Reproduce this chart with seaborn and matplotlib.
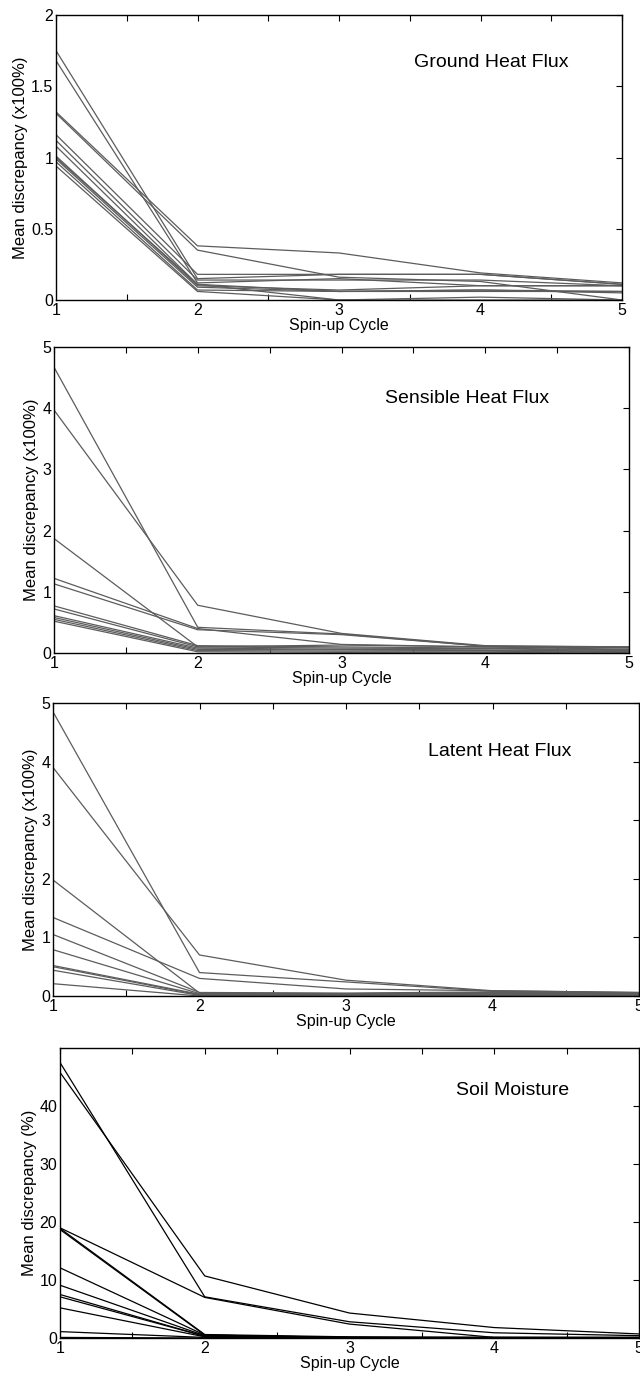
import pandas as pd
import matplotlib
matplotlib.use("Agg")
import matplotlib.pyplot as plt
from matplotlib.ticker import MultipleLocator
import seaborn as sns

sns.set_style("white")
plt.rcParams["font.family"] = ["Liberation Sans", "DejaVu Sans"]
plt.rcParams["text.color"] = "black"
plt.rcParams["axes.labelcolor"] = "black"

## DATA
cycles = [1, 2, 3, 4, 5]

ground_heat = [
    [1.75, 0.15, 0.18, 0.18, 0.11],
    [1.68, 0.12, 0.15, 0.10, 0.10],
    [1.32, 0.38, 0.33, 0.19, 0.12],
    [1.31, 0.35, 0.16, 0.13, 0.00],
    [1.16, 0.18, 0.18, 0.18, 0.11],
    [1.12, 0.14, 0.14, 0.14, 0.10],
    [1.08, 0.11, 0.06, 0.07, 0.06],
    [1.01, 0.10, 0.07, 0.10, 0.10],
    [1.00, 0.11, 0.00, 0.00, 0.00],
    [0.99, 0.09, 0.06, 0.07, 0.05],
    [0.97, 0.07, 0.06, 0.06, 0.06],
    [0.94, 0.06, 0.00, 0.02, 0.00],
]

sensible_heat = [
    [4.67, 0.42, 0.31, 0.11, 0.09],
    [3.97, 0.78, 0.32, 0.12, 0.10],
    [1.87, 0.10, 0.13, 0.10, 0.08],
    [1.22, 0.40, 0.14, 0.10, 0.06],
    [1.13, 0.38, 0.30, 0.11, 0.10],
    [0.77, 0.12, 0.10, 0.08, 0.05],
    [0.72, 0.10, 0.08, 0.07, 0.04],
    [0.61, 0.08, 0.06, 0.05, 0.03],
    [0.58, 0.06, 0.05, 0.04, 0.02],
    [0.55, 0.04, 0.03, 0.03, 0.01],
    [0.52, 0.02, 0.01, 0.01, 0.00],
]

latent_heat = [
    [4.85, 0.40, 0.24, 0.08, 0.05],
    [3.90, 0.70, 0.27, 0.09, 0.06],
    [1.98, 0.05, 0.04, 0.06, 0.04],
    [1.34, 0.30, 0.12, 0.09, 0.06],
    [1.05, 0.06, 0.05, 0.07, 0.05],
    [0.79, 0.04, 0.03, 0.05, 0.03],
    [0.52, 0.03, 0.02, 0.04, 0.02],
    [0.50, 0.02, 0.02, 0.03, 0.02],
    [0.44, 0.01, 0.01, 0.02, 0.01],
    [0.21, 0.00, 0.00, 0.01, 0.00],
]

soil_moisture = [
    [47.5, 7.1, 2.8, 0.9, 0.4],
    [45.8, 10.7, 4.3, 1.8, 0.7],
    [19.0, 7.0, 2.4, 0.1, 0.1],
    [18.9, 0.6, 0.2, 0.1, 0.1],
    [18.7, 0.5, 0.1, 0.1, 0.0],
    [12.1, 0.5, 0.1, 0.1, 0.1],
    [9.1, 0.4, 0.1, 0.0, 0.0],
    [7.5, 0.3, 0.1, 0.0, 0.0],
    [7.1, 0.3, 0.0, 0.0, 0.0],
    [5.2, 0.2, 0.0, 0.0, 0.0],
    [1.1, 0.1, 0.0, 0.0, 0.0],
    [0.1, 0.0, 0.0, 0.0, 0.0],
]

titles = ["Ground Heat Flux", "Sensible Heat Flux", "Latent Heat Flux", "Soil Moisture"]
ylabels = ["Mean discrepancy (x100%)"] * 3 + ["Mean discrepancy (%)"]
ymax = [2, 5, 5, 50]
yticks = [[0, 0.5, 1, 1.5, 2], [0, 1, 2, 3, 4, 5], [0, 1, 2, 3, 4, 5], [0, 10, 20, 30, 40]]
ytick_labels = [["0", "0.5", "1", "1.5", "2"], None, None, None]
panels = [ground_heat, sensible_heat, latent_heat, soil_moisture]


def to_long(runs):
    rows = []
    for i, run in enumerate(runs):
        for c, v in zip(cycles, run):
            rows.append({"run": i, "cycle": c, "value": v})
    return pd.DataFrame(rows)


## LAYOUT (pixel boxes: left, right, top, bottom)
W, H = 640, 1378
boxes = [(56, 622, 15, 300), (54, 629, 347, 653), (53, 639, 703, 996), (60, 639, 1048, 1338)]
text_pos = [(0.633, 0.832), (0.576, 0.833), (0.64, 0.833), (0.684, 0.855)]
line_colors = ["#5c5c5c", "#5c5c5c", "#5c5c5c", "black"]

fig = plt.figure(figsize=(W / 100, H / 100), dpi=100)

for k, runs in enumerate(panels):
    l, r, t, b = boxes[k]
    ax = fig.add_axes([l / W, 1 - b / H, (r - l) / W, (b - t) / H])
    df = to_long(runs)
    sns.lineplot(data=df, x="cycle", y="value", units="run", estimator=None,
                 color=line_colors[k], linewidth=0.9, ax=ax, legend=False)
    ax.set_xlim(1, 5)
    ax.set_ylim(0, ymax[k])
    ax.set_xticks(cycles)
    ax.set_xticklabels([str(c) for c in cycles])
    ax.xaxis.set_minor_locator(MultipleLocator(0.5))
    ax.set_yticks(yticks[k])
    if ytick_labels[k] is not None:
        ax.set_yticklabels(ytick_labels[k])
    ax.tick_params(which="both", direction="in", top=True, right=True,
                   length=4, width=0.8, labelsize=11.5, pad=2, colors="black")
    ax.tick_params(which="minor", bottom=True, top=True)
    for s in ax.spines.values():
        s.set_color("black")
        s.set_linewidth(1.0)
    ax.set_xlabel("Spin-up Cycle", fontsize=11.5, labelpad=0)
    ax.set_ylabel(ylabels[k], fontsize=12, labelpad=2)
    ax.text(text_pos[k][0], text_pos[k][1], titles[k], transform=ax.transAxes,
            fontsize=14, ha="left", va="center")

fig.savefig("out.png", dpi=100)
